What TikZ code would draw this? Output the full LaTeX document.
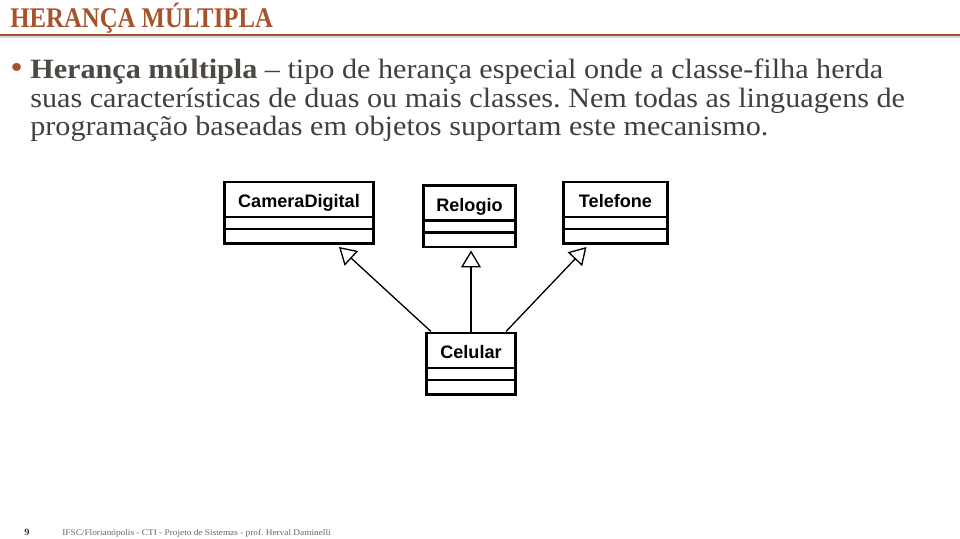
\documentclass[tikz,border=0pt]{standalone}
\usepackage{fontspec}
\setmainfont[FakeStretch=1.08]{Liberation Serif}
\setsansfont{Liberation Sans}
\newfontfamily\fonttitulo[FakeStretch=0.87]{Liberation Serif}
\usetikzlibrary{arrows.meta,shapes.multipart,calc}
\definecolor{ferrugem}{RGB}{166,82,42}
\definecolor{textocinza}{RGB}{64,64,64}
\definecolor{destaque}{RGB}{76,72,68}
\tikzset{
  classe/.style={draw, line width=1.5pt, rectangle split, rectangle split parts=3,
    inner xsep=0pt, inner ysep=0pt, anchor=north, align=center,
    font=\sffamily\bfseries\fontsize{10.3}{10.3}\selectfont},
  heranca/.style={line width=.75pt,
    -{Triangle[open, length=9.6pt, width=11.3pt, line width=.75pt]}},
  texto/.style={anchor=base west, inner sep=0pt},
}
\newcommand{\nomeclasse}[1]{\rule[-4.6pt]{0pt}{18.6pt}#1\nodepart{two}\rule{0pt}{5.3pt}\nodepart{three}\rule{0pt}{6.8pt}}
\frenchspacing
\begin{document}
\begin{tikzpicture}[x=0.02cm, y=-0.02cm]
  \useasboundingbox[fill=white] (0,0) rectangle (960,538);
  \node[texto, text=ferrugem, font=\fonttitulo\bfseries\fontsize{16.2}{16.2}\selectfont] (titulo) at (10,27.5) {HERANÇA MÚLTIPLA};
  \draw[black!15, line width=1pt] (0,37) -- (960,37);
  \draw[ferrugem, line width=1.1pt] (0,35) -- (960,35);
  \node[texto, text=ferrugem, font=\fontsize{19}{19}\selectfont] (marcador) at (10,78) {•};
  \node[texto, align=left, text=textocinza, font=\fontsize{15.9}{16.2}\selectfont] (paragrafo) at (30,135.5)
    {\textcolor{destaque}{\bfseries Herança múltipla} -- tipo de herança especial onde a classe-filha herda\\
     suas características de duas ou mais classes. Nem todas as linguagens de\\
     programação baseadas em objetos suportam este mecanismo.};

  \node[classe, text width=85pt] (camera) at (299,180.5) {\nomeclasse{CameraDigital}};
  \node[classe, text width=52.7pt] (relogio) at (469.5,184) {\nomeclasse{Relogio}};
  \node[classe, text width=59.5pt] (telefone) at (615.5,180.5) {\nomeclasse{Telefone}};
  \node[classe, text width=51pt] (celular) at (471,331.5) {\nomeclasse{Celular}};

  \draw[heranca] ($(celular.north)+(-40,0)$) -- ($(camera.south)+(40,2)$);
  \draw[heranca] (celular.north) -- ($(celular.north |- relogio.south)+(0,2)$);
  \draw[heranca] ($(celular.north)+(35,0)$) -- ($(telefone.south)+(-29,2)$);

  \node[texto, text=textocinza, font=\bfseries\fontsize{5.5}{6}\selectfont] (pagina) at (24,535) {9};
  \node[texto, text=black!60, font=\fontsize{4.9}{6}\selectfont] (rodape) at (62,535)
    {IFSC/Florianópolis - CTI - Projeto de Sistemas - prof. Herval Daminelli};
\end{tikzpicture}
\end{document}
